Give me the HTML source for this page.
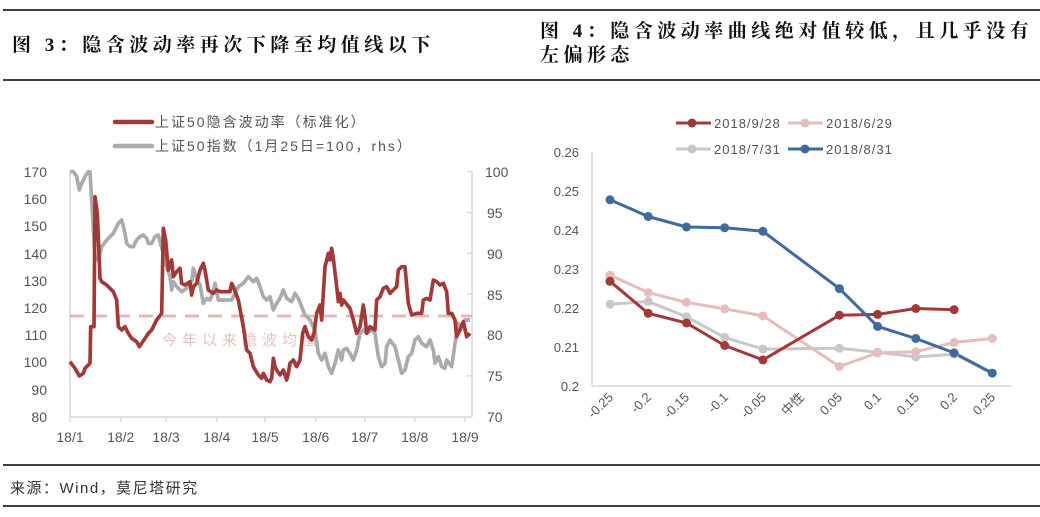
<!DOCTYPE html>
<html><head><meta charset="utf-8"><style>
html,body{margin:0;padding:0;background:#fff;}
body{width:1040px;height:517px;overflow:hidden;position:relative;font-family:"Liberation Sans","Noto Sans CJK SC",sans-serif;}
svg{position:absolute;left:0;top:0;}
</style></head><body>
<svg width="1040" height="517" viewBox="0 0 1040 517" xmlns="http://www.w3.org/2000/svg">
<g stroke="#000" stroke-width="1.5">
<line x1="3" y1="10" x2="1040" y2="10"/>
<line x1="3" y1="80" x2="1040" y2="80"/>
<line x1="3" y1="465" x2="1040" y2="465"/>
<line x1="3" y1="506" x2="1040" y2="506"/>
</g>
<g font-family="'Liberation Serif','Noto Serif CJK SC',serif" font-weight="bold" font-size="19" fill="#111" letter-spacing="4.5">
<text x="12" y="51">图 3：隐含波动率再次下降至均值线以下</text>
<text x="540" y="37">图  4：隐含波动率曲线绝对值较低，且几乎没有</text>
<text x="540" y="61">左偏形态</text>
</g>
<text x="10" y="493" font-size="15" fill="#333" letter-spacing="1.5">来源：Wind，莫尼塔研究</text>

<!-- LEFT CHART -->
<g stroke="#d9d9d9" stroke-width="1.5" fill="none">
<line x1="70" y1="171" x2="70" y2="417"/>
<line x1="70" y1="417" x2="472" y2="417"/>
<line x1="472" y1="171" x2="472" y2="417"/>
<line x1="467" y1="171.7" x2="472" y2="171.7"/><line x1="467" y1="212.5" x2="472" y2="212.5"/><line x1="467" y1="253.3" x2="472" y2="253.3"/><line x1="467" y1="294.2" x2="472" y2="294.2"/><line x1="467" y1="335" x2="472" y2="335"/><line x1="467" y1="375.8" x2="472" y2="375.8"/>
<line x1="70" y1="417" x2="70" y2="422"/><line x1="120.7" y1="417" x2="120.7" y2="422"/><line x1="166" y1="417" x2="166" y2="422"/><line x1="216.7" y1="417" x2="216.7" y2="422"/><line x1="265" y1="417" x2="265" y2="422"/><line x1="315.7" y1="417" x2="315.7" y2="422"/><line x1="364.7" y1="417" x2="364.7" y2="422"/><line x1="414.7" y1="417" x2="414.7" y2="422"/><line x1="465" y1="417" x2="465" y2="422"/>
</g>
<g font-size="14" fill="#555" text-anchor="end">
<text x="47" y="177">170</text><text x="47" y="204">160</text><text x="47" y="231">150</text><text x="47" y="259">140</text><text x="47" y="286">130</text><text x="47" y="313">120</text><text x="47" y="340">110</text><text x="47" y="367">100</text><text x="47" y="395">90</text><text x="47" y="422">80</text>
</g>
<g font-size="14" fill="#555">
<text x="485" y="177">100</text><text x="487" y="218">95</text><text x="487" y="259">90</text><text x="487" y="300">85</text><text x="487" y="340">80</text><text x="487" y="381">75</text><text x="487" y="422">70</text>
</g>
<g font-size="14" fill="#555" text-anchor="middle">
<text x="70" y="442">18/1</text><text x="120.7" y="442">18/2</text><text x="166" y="442">18/3</text><text x="216.7" y="442">18/4</text><text x="265" y="442">18/5</text><text x="315.7" y="442">18/6</text><text x="364.7" y="442">18/7</text><text x="414.7" y="442">18/8</text><text x="465" y="442">18/9</text>
</g>
<line x1="70" y1="316" x2="472" y2="316" stroke="#e6b8b8" stroke-width="3" stroke-dasharray="14,9"/>
<text x="162" y="345" font-size="15" fill="#ebc0c0" letter-spacing="5">今年以来隐波均值</text>
<g transform="translate(0,100) scale(0.33333)" fill="none" stroke-linejoin="round" stroke-width="11">
<polyline stroke="#ababab" points="210,215 220,215 230,230 238,270 245,250 255,230 265,215 270,215 280,390 285,470 295,480 305,440 320,420 340,400 355,370 365,360 375,400 380,430 390,440 400,440 410,420 420,410 430,405 440,415 445,430 455,430 465,410 475,405 480,425 490,460 500,500 510,530 515,570 520,545 530,560 545,575 560,565 575,545 580,505 590,535 600,555 610,610 620,595 630,600 640,575 645,550 655,600 670,600 695,600 705,580 715,560 730,550 745,530 760,545 770,535 780,560 790,590 800,600 810,590 820,630 830,610 840,595 850,570 860,595 875,605 885,580 895,595 905,620 915,645 930,660 945,690 955,760 965,780 975,760 985,800 995,820 1005,790 1015,750 1025,780 1030,750 1040,745 1050,760 1060,780 1070,750 1080,700 1090,690 1100,700 1115,690 1125,700 1135,770 1145,800 1155,790 1160,740 1170,720 1185,740 1195,780 1205,820 1215,810 1225,770 1235,760 1245,720 1255,710 1265,730 1280,740 1290,720 1300,750 1305,790 1315,770 1325,800 1335,805 1340,780 1355,800 1365,730 1375,670 1385,680 1395,660 1410,660"/>
<polyline stroke="#a33838" points="210,785 225,805 238,828 250,820 255,805 265,795 270,790 272,680 282,680 285,290 292,340 300,535 305,545 320,555 340,575 350,600 355,680 365,690 375,680 380,690 385,700 395,715 410,725 418,740 425,730 435,715 445,700 455,690 470,660 485,640 490,385 497,420 505,510 515,480 520,530 530,515 540,505 545,550 555,555 570,545 575,585 580,560 590,550 600,510 610,490 615,510 625,570 640,580 650,570 660,575 690,575 695,550 700,560 715,600 730,680 740,750 750,760 760,800 775,825 785,835 790,820 800,840 810,845 815,835 820,775 825,800 830,810 840,825 850,810 860,840 865,820 870,790 880,780 890,800 900,780 908,700 915,680 925,710 935,720 942,700 950,640 960,615 965,660 975,500 985,460 990,480 995,445 1000,475 1010,560 1015,605 1020,580 1025,615 1030,600 1050,625 1060,660 1070,700 1080,680 1090,615 1095,650 1100,700 1110,680 1125,690 1130,600 1140,590 1150,565 1160,560 1170,580 1180,570 1190,560 1195,510 1205,500 1215,500 1225,610 1235,645 1250,640 1265,640 1270,600 1280,595 1290,600 1300,540 1310,545 1320,555 1330,550 1340,575 1345,640 1355,640 1365,660 1370,710 1380,690 1390,665 1400,710 1410,700"/>
</g>
<line x1="115" y1="122" x2="152" y2="122" stroke="#a33838" stroke-width="4.5" stroke-linecap="round"/>
<line x1="115" y1="146" x2="152" y2="146" stroke="#ababab" stroke-width="4.5" stroke-linecap="round"/>
<g font-size="14" fill="#555" letter-spacing="2">
<text x="155" y="127">上证50隐含波动率（标准化）</text>
<text x="155" y="151">上证50指数（1月25日=100，rhs）</text>
</g>

<!-- RIGHT CHART -->
<g stroke="#d9d9d9" stroke-width="1.5">
<line x1="592" y1="152" x2="592" y2="386"/>
<line x1="592" y1="386" x2="1012" y2="386"/>
</g>
<g font-size="13" fill="#555" text-anchor="end">
<text x="579" y="157">0.26</text><text x="579" y="196">0.25</text><text x="579" y="235">0.24</text><text x="579" y="274">0.23</text><text x="579" y="313">0.22</text><text x="579" y="352">0.21</text><text x="579" y="391">0.2</text>
</g>
<g font-size="13" fill="#555" text-anchor="end">
<text transform="translate(614,398) rotate(-45)">-0.25</text>
<text transform="translate(652,398) rotate(-45)">-0.2</text>
<text transform="translate(690,398) rotate(-45)">-0.15</text>
<text transform="translate(729,398) rotate(-45)">-0.1</text>
<text transform="translate(767,398) rotate(-45)">-0.05</text>
<text transform="translate(805,398) rotate(-45)">中性</text>
<text transform="translate(843,398) rotate(-45)">0.05</text>
<text transform="translate(882,398) rotate(-45)">0.1</text>
<text transform="translate(920,398) rotate(-45)">0.15</text>
<text transform="translate(958,398) rotate(-45)">0.2</text>
<text transform="translate(996,398) rotate(-45)">0.25</text>
</g>
<g stroke-width="3" fill="none" stroke-linejoin="round">
<polyline stroke="#c8c8c8" points="610,304.2 648.2,301.5 686.5,316.8 724.7,337.4 762.9,349.1 839.4,348.3 877.6,352.2 915.8,356.9 954.1,354.2 992.3,373.6"/>
<polyline stroke="#e6bcbc" points="610,275.1 648.2,292.6 686.5,302.3 724.7,308.9 762.9,315.9 839.4,366.5 877.6,352.9 915.8,351.7 954.1,342.4 992.3,338.5"/>
<polyline stroke="#a33838" points="610,281.3 648.2,313.3 686.5,323.0 724.7,345.5 762.9,359.9 839.4,315.2 877.6,314.4 915.8,308.5 954.1,309.7"/>
<polyline stroke="#3d6b9e" points="610,199.8 648.2,216.5 686.5,227.0 724.7,227.8 762.9,231.3 839.4,288.6 877.6,326.4 915.8,338.5 954.1,352.9 992.3,373.1"/>
</g>
<g fill="#c8c8c8"><circle cx="610" cy="304.2" r="4.5"/><circle cx="648.2" cy="301.5" r="4.5"/><circle cx="686.5" cy="316.8" r="4.5"/><circle cx="724.7" cy="337.4" r="4.5"/><circle cx="762.9" cy="349.1" r="4.5"/><circle cx="839.4" cy="348.3" r="4.5"/><circle cx="877.6" cy="352.2" r="4.5"/><circle cx="915.8" cy="356.9" r="4.5"/><circle cx="954.1" cy="354.2" r="4.5"/></g>
<g fill="#e6bcbc"><circle cx="610" cy="275.1" r="4.5"/><circle cx="648.2" cy="292.6" r="4.5"/><circle cx="686.5" cy="302.3" r="4.5"/><circle cx="724.7" cy="308.9" r="4.5"/><circle cx="762.9" cy="315.9" r="4.5"/><circle cx="839.4" cy="366.5" r="4.5"/><circle cx="877.6" cy="352.9" r="4.5"/><circle cx="915.8" cy="351.7" r="4.5"/><circle cx="954.1" cy="342.4" r="4.5"/><circle cx="992.3" cy="338.5" r="4.5"/></g>
<g fill="#a33838"><circle cx="610" cy="281.3" r="4.5"/><circle cx="648.2" cy="313.3" r="4.5"/><circle cx="686.5" cy="323.0" r="4.5"/><circle cx="724.7" cy="345.5" r="4.5"/><circle cx="762.9" cy="359.9" r="4.5"/><circle cx="839.4" cy="315.2" r="4.5"/><circle cx="877.6" cy="314.4" r="4.5"/><circle cx="915.8" cy="308.5" r="4.5"/><circle cx="954.1" cy="309.7" r="4.5"/></g>
<g fill="#3d6b9e"><circle cx="610" cy="199.8" r="4.5"/><circle cx="648.2" cy="216.5" r="4.5"/><circle cx="686.5" cy="227.0" r="4.5"/><circle cx="724.7" cy="227.8" r="4.5"/><circle cx="762.9" cy="231.3" r="4.5"/><circle cx="839.4" cy="288.6" r="4.5"/><circle cx="877.6" cy="326.4" r="4.5"/><circle cx="915.8" cy="338.5" r="4.5"/><circle cx="954.1" cy="352.9" r="4.5"/><circle cx="992.3" cy="373.1" r="4.5"/></g>
<!-- legend -->
<g stroke-width="3">
<line x1="676" y1="123" x2="711" y2="123" stroke="#a33838"/><circle cx="692" cy="123" r="4.5" fill="#a33838"/>
<line x1="788" y1="123" x2="823" y2="123" stroke="#e6bcbc"/><circle cx="805" cy="123" r="4.5" fill="#e6bcbc"/>
<line x1="676" y1="149" x2="711" y2="149" stroke="#c8c8c8"/><circle cx="692" cy="149" r="4.5" fill="#c8c8c8"/>
<line x1="788" y1="149" x2="823" y2="149" stroke="#3d6b9e"/><circle cx="805" cy="149" r="4.5" fill="#3d6b9e"/>
</g>
<g font-size="13" fill="#555" letter-spacing="1">
<text x="714" y="128">2018/9/28</text><text x="826" y="128">2018/6/29</text>
<text x="714" y="154">2018/7/31</text><text x="826" y="154">2018/8/31</text>
</g>
</svg>
</body></html>
